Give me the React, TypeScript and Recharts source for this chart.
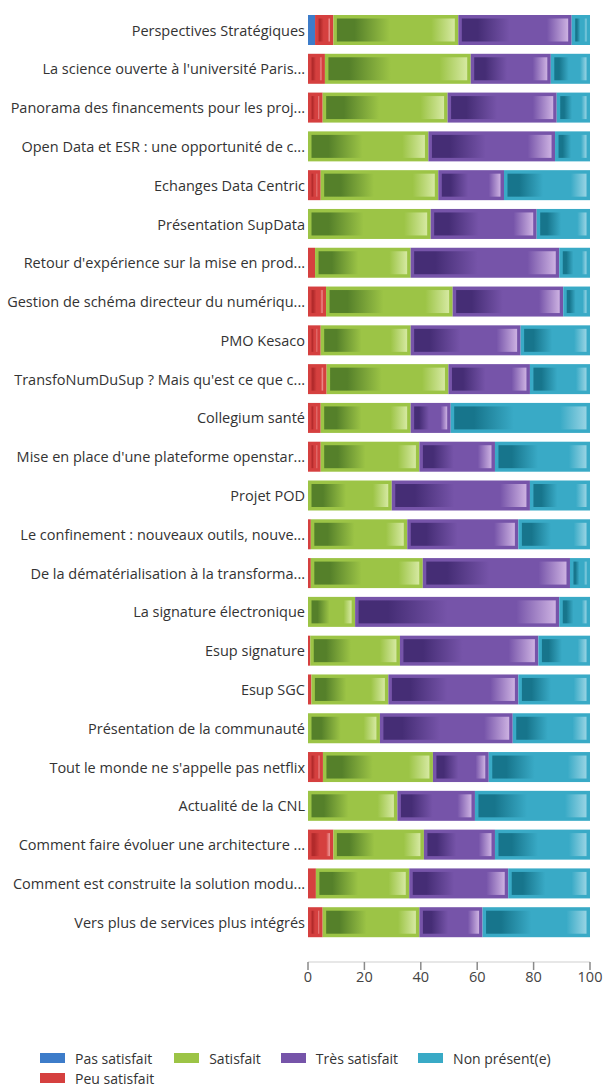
import React from 'react';
import { BarChart, Bar, XAxis, YAxis, Legend } from 'recharts';

const categories = [
  'Perspectives Stratégiques',
  "La science ouverte à l'université Paris...",
  'Panorama des financements pour les proj...',
  'Open Data et ESR : une opportunité de c...',
  'Echanges Data Centric',
  'Présentation SupData',
  "Retour d'expérience sur la mise en prod...",
  'Gestion de schéma directeur du numériqu...',
  'PMO Kesaco',
  "TransfoNumDuSup ? Mais qu'est ce que c...",
  'Collegium santé',
  "Mise en place d'une plateforme openstar...",
  'Projet POD',
  'Le confinement : nouveaux outils, nouve...',
  'De la dématérialisation à la transforma...',
  'La signature électronique',
  'Esup signature',
  'Esup SGC',
  'Présentation de la communauté',
  "Tout le monde ne s'appelle pas netflix",
  'Actualité de la CNL',
  'Comment faire évoluer une architecture ...',
  'Comment est construite la solution modu...',
  'Vers plus de services plus intégrés',
];

const pasSatisfait = [2.5, 0, 0, 0, 0, 0, 0, 0, 0, 0, 0, 0, 0, 0, 0, 0, 0, 0, 0, 0, 0, 0, 0, 0];
const peuSatisfait = [6.5, 6.0, 5.2, 0, 4.5, 0, 2.5, 6.4, 4.5, 6.6, 4.5, 4.5, 0, 1.0, 1.0, 0, 0.8, 1.2, 0, 5.3, 0, 9.0, 2.8, 5.2];
const satisfait = [44.3, 51.7, 44.3, 42.7, 41.7, 43.5, 33.9, 44.9, 31.9, 43.2, 31.9, 35.0, 29.7, 34.2, 39.7, 16.7, 31.8, 27.3, 25.5, 39.0, 31.7, 32.1, 33.1, 34.3];
const tresSatisfait = [40.2, 28.4, 38.7, 44.9, 23.3, 37.6, 52.7, 39.2, 39.0, 28.9, 14.2, 26.8, 49.0, 39.4, 52.2, 72.4, 49.1, 46.1, 47.1, 19.8, 27.5, 25.2, 35.1, 22.4];
const nonPresent = [6.5, 13.9, 11.8, 12.4, 30.5, 18.9, 10.9, 9.5, 24.6, 21.3, 49.4, 33.7, 21.3, 25.4, 7.1, 10.9, 18.3, 25.4, 27.4, 35.9, 40.8, 33.7, 29.0, 38.1];

const xTicks = [0, 20, 40, 60, 80, 100];

const seriesDefs = [
  { key: 'pas', name: 'Pas satisfait', base: '#3d7cc9', dark: '#23579a', light: '#93bbe6' },
  { key: 'peu', name: 'Peu satisfait', base: '#d5403f', dark: '#b22a2b', light: '#f0a0a0' },
  { key: 'sat', name: 'Satisfait', base: '#9cc446', dark: '#55802a', light: '#d6e9a2' },
  { key: 'tres', name: 'Très satisfait', base: '#7654a9', dark: '#452d75', light: '#cdb2e2' },
  { key: 'non', name: 'Non présent(e)', base: '#39aac6', dark: '#17758c', light: '#98d4e4' },
];

const data = categories.map((name, i) => ({
  name,
  pas: pasSatisfait[i],
  peu: peuSatisfait[i],
  sat: satisfait[i],
  tres: tresSatisfait[i],
  non: nonPresent[i],
}));

const makeShape = (key: string, base: string) => (props: any) => {
  const { x, y, width, height } = props;
  if (!width || width <= 0) return <g />;
  const inset = 3.5;
  return (
    <g>
      <rect x={x} y={y} width={width} height={height} fill={base} />
      {width > inset * 2 + 1 ? (
        <rect
          x={x + inset}
          y={y + inset}
          width={width - inset * 2}
          height={height - inset * 2}
          fill={`url(#grad-${key})`}
        />
      ) : null}
    </g>
  );
};

const LegendContent = () => {
  const item = (d: any) => (
    <div key={d.key} style={{ display: 'flex', alignItems: 'center', height: 20 }}>
      <div style={{ width: 25, height: 10, background: d.base, marginRight: 10 }} />
      <span>{d.name}</span>
    </div>
  );
  return (
    <div
      style={{
        display: 'flex',
        alignItems: 'flex-start',
        gap: 20,
        paddingLeft: 40,
        fontFamily: '"Open Sans", sans-serif',
        fontSize: 14,
        color: '#333',
      }}
    >
      <div style={{ display: 'flex', flexDirection: 'column' }}>
        {item(seriesDefs[0])}
        {item(seriesDefs[1])}
      </div>
      {item(seriesDefs[2])}
      {item(seriesDefs[3])}
      {item(seriesDefs[4])}
    </div>
  );
};

export default function App() {
  return (
    <div style={{ position: 'absolute', left: 0, top: 0, background: '#fff' }}>
      <BarChart
        width={607}
        height={1087}
        data={data}
        layout="vertical"
        margin={{ top: 11, right: 17, left: 0, bottom: 95 }}
        barSize={30}
      >
        <defs>
          {seriesDefs.map((s) => (
            <linearGradient key={s.key} id={`grad-${s.key}`} x1="0" y1="0" x2="1" y2="0">
              <stop offset="0%" stopColor={s.dark} />
              <stop offset="15%" stopColor={s.dark} />
              <stop offset="45%" stopColor={s.base} />
              <stop offset="80%" stopColor={s.base} />
              <stop offset="100%" stopColor={s.light} />
            </linearGradient>
          ))}
        </defs>
        <XAxis
          type="number"
          domain={[0, 100]}
          ticks={xTicks}
          interval={0}
          height={30}
          tickSize={8}
          tickLine={{ stroke: '#8a8a8a', strokeWidth: 1.5 }}
          axisLine={{ stroke: '#cfcfcf' }}
          tick={{ fill: '#444', fontSize: 14.5, fontFamily: '"Open Sans", sans-serif' }}
        />
        <YAxis
          type="category"
          dataKey="name"
          width={308}
          interval={0}
          tickLine={false}
          axisLine={false}
          tickSize={0}
          tickMargin={3}
          padding={{ top: 0, bottom: 20 }}
          tick={{ fill: '#333', fontSize: 14.5, fontFamily: '"Open Sans", sans-serif' }}
        />
        <Legend
          layout="horizontal"
          verticalAlign="middle"
          align="center"
          wrapperStyle={{ top: 1048, left: 0, width: 607 }}
          content={<LegendContent />}
        />
        {seriesDefs.map((s) => (
          <Bar
            key={s.key}
            dataKey={s.key}
            name={s.name}
            stackId="a"
            fill={s.base}
            isAnimationActive={false}
            shape={makeShape(s.key, s.base)}
          />
        ))}
      </BarChart>
    </div>
  );
}
